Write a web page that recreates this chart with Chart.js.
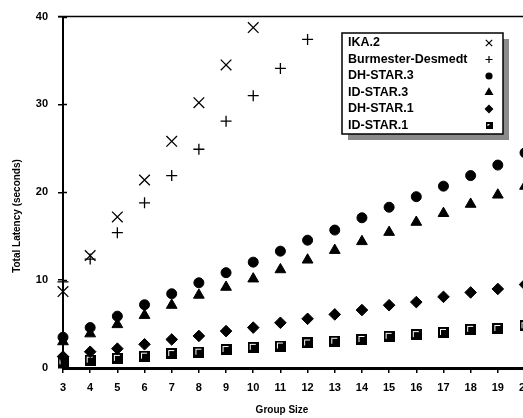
<!DOCTYPE html>
<html lang="en">
<head>
    <meta charset="UTF-8">
    <title>Total Latency vs Group Size</title>
    <script src="https://cdn.jsdelivr.net/npm/chart.js"></script>
    <style>
        html, body { margin: 0; padding: 0; background: #fff; overflow: hidden; }
        #wrap { width: 523px; height: 418px; overflow: hidden; position: relative; }
        #chart { position: absolute; left: 0; top: 0; }
    </style>
</head>
<body>
    <div id="wrap"><canvas id="chart" width="545" height="418"></canvas></div>

    <script>
        // group sizes on the x axis
        const groupSizes = [3, 4, 5, 6, 7, 8, 9, 10, 11, 12, 13, 14, 15, 16, 17, 18, 19, 20];

        // total latency in seconds
        const ika2 = [8.7, 12.8, 17.2, 21.4, 25.8, 30.2, 34.5, 38.75];
        const burmesterDesmedt = [9.8, 12.4, 15.4, 18.8, 21.9, 24.9, 28.1, 31.0, 34.1, 37.4];
        const dhStar3 = [3.5, 4.6, 5.9, 7.2, 8.45, 9.7, 10.85, 12.05, 13.3, 14.55, 15.7, 17.1, 18.3, 19.5, 20.7, 21.9, 23.1, 24.5];
        const idStar3 = [3.0, 3.9, 4.95, 6.0, 7.15, 8.3, 9.2, 10.15, 11.2, 12.3, 13.4, 14.4, 15.45, 16.6, 17.6, 18.65, 19.7, 20.7];
        const dhStar1 = [1.3, 1.85, 2.2, 2.7, 3.25, 3.65, 4.2, 4.6, 5.15, 5.6, 6.1, 6.6, 7.15, 7.5, 8.1, 8.6, 9.0, 9.5];
        const idStar1 = [0.7, 0.9, 1.1, 1.35, 1.65, 1.8, 2.1, 2.35, 2.5, 2.85, 3.05, 3.25, 3.6, 3.8, 4.05, 4.4, 4.5, 4.8];

        const yTicks = [0, 10, 20, 30, 40];

        // square marker with the little white highlight
        function makeSquare(size) {
            const c = document.createElement('canvas');
            c.width = size; c.height = size;
            const g = c.getContext('2d');
            g.fillStyle = '#000';
            g.fillRect(0, 0, size, size);
            g.fillStyle = '#fff';
            g.fillRect(2, 2, size - 5, 1);
            g.fillRect(2, 2, 1, size - 5);
            return c;
        }
        const squareImg = makeSquare(11);
        const squareLegend = makeSquare(7);

        const toPoints = arr => arr.map((v, i) => ({ x: groupSizes[i], y: v }));

        const series = [
            { label: 'IKA.2', data: ika2, style: 'crossRot', radius: 7.5, lw: 1.3, legendR: 4.5 },
            { label: 'Burmester-Desmedt', data: burmesterDesmedt, style: 'cross', radius: 5.5, lw: 1.3, legendR: 3.5 },
            { label: 'DH-STAR.3', data: dhStar3, style: 'circle', radius: 5, lw: 1, legendR: 3 },
            { label: 'ID-STAR.3', data: idStar3, style: 'triangle', radius: 6.2, lw: 1, legendR: 4 },
            { label: 'DH-STAR.1', data: dhStar1, style: 'rectRot', radius: 5.8, lw: 1, legendR: 3.6 },
            { label: 'ID-STAR.1', data: idStar1, style: squareImg, radius: 5, lw: 1, legendR: 3, legendImg: squareLegend }
        ];

        const datasets = series.map(s => ({
            label: s.label,
            data: toPoints(s.data),
            pointStyle: s.style,
            pointRadius: s.radius,
            pointHoverRadius: s.radius,
            pointBorderWidth: s.lw,
            borderColor: '#000',
            backgroundColor: '#000',
            showLine: false
        }));

        // axis titles, top border, inner tick stubs and the boxed legend
        const extras = {
            id: 'extras',
            afterDraw(chart) {
                const ctx = chart.ctx;
                const area = chart.chartArea;
                const ys = chart.scales.y;
                ctx.save();
                ctx.strokeStyle = '#000';

                // top frame line
                ctx.lineWidth = 1.5;
                ctx.beginPath();
                ctx.moveTo(area.left - 5, area.top);
                ctx.lineTo(area.right, area.top);
                ctx.stroke();

                // y ticks poke into the plot a little
                yTicks.forEach(t => {
                    const py = Math.round(ys.getPixelForValue(t)) + 0.5;
                    ctx.beginPath();
                    ctx.moveTo(area.left, py);
                    ctx.lineTo(area.left + 4, py);
                    ctx.stroke();
                });

                // axis titles
                ctx.fillStyle = '#000';
                ctx.font = 'bold 10px "Liberation Sans", Arial, sans-serif';
                ctx.textAlign = 'center';
                ctx.textBaseline = 'middle';
                ctx.fillText('Group Size', 282, 410);
                ctx.translate(17, 216);
                ctx.rotate(-Math.PI / 2);
                ctx.fillText('Total Latency (seconds)', 0, 0);
                ctx.setTransform(1, 0, 0, 1, 0, 0);

                // legend box with shadow
                const bx = 342, by = 33, bw = 161, bh = 101;
                ctx.fillStyle = '#8a8a8a';
                ctx.fillRect(bx + 6, by + 6, bw, bh);
                ctx.fillStyle = '#fff';
                ctx.fillRect(bx, by, bw, bh);
                ctx.lineWidth = 1.5;
                ctx.strokeRect(bx, by, bw, bh);

                ctx.font = 'bold 12.5px "Liberation Sans", Arial, sans-serif';
                ctx.textAlign = 'left';
                series.forEach((s, i) => {
                    const ly = 43 + i * 16.5;
                    ctx.fillStyle = '#000';
                    ctx.strokeStyle = '#000';
                    ctx.lineWidth = 1.2;
                    ctx.fillText(s.label, 348, ly);
                    Chart.helpers.drawPoint(ctx, {
                        pointStyle: s.legendImg || s.style,
                        radius: s.legendR,
                        rotation: 0,
                        borderWidth: 1.2
                    }, 489, ly);
                });
                ctx.restore();
            }
        };

        new Chart(document.getElementById('chart'), {
            type: 'scatter',
            data: { datasets },
            plugins: [extras],
            options: {
                responsive: false,
                devicePixelRatio: 1,
                animation: false,
                clip: false,
                layout: { padding: { left: 0, top: 15, right: 20, bottom: 0 } },
                plugins: {
                    legend: { display: false },
                    tooltip: { enabled: false }
                },
                scales: {
                    x: {
                        type: 'linear',
                        min: 3,
                        max: 20,
                        afterFit: scale => { scale.height = 50; },
                        afterBuildTicks: scale => { scale.ticks = groupSizes.map(v => ({ value: v })); },
                        ticks: {
                            color: '#000',
                            padding: 8,
                            font: { family: '"Liberation Sans", Arial, sans-serif', size: 11, weight: 'bold' }
                        },
                        grid: { drawOnChartArea: false, tickLength: 5, color: '#000', lineWidth: 1.5 },
                        border: { display: true, color: '#000', width: 3 }
                    },
                    y: {
                        min: 0,
                        max: 40,
                        afterFit: scale => { scale.width = 63; },
                        afterBuildTicks: scale => { scale.ticks = yTicks.map(v => ({ value: v })); },
                        ticks: {
                            color: '#000',
                            padding: 10,
                            font: { family: '"Liberation Sans", Arial, sans-serif', size: 11, weight: 'bold' }
                        },
                        grid: { drawOnChartArea: false, tickLength: 5, color: '#000', lineWidth: 1.5 },
                        border: { display: true, color: '#000', width: 2 }
                    }
                }
            }
        });
    </script>
</body>
</html>
